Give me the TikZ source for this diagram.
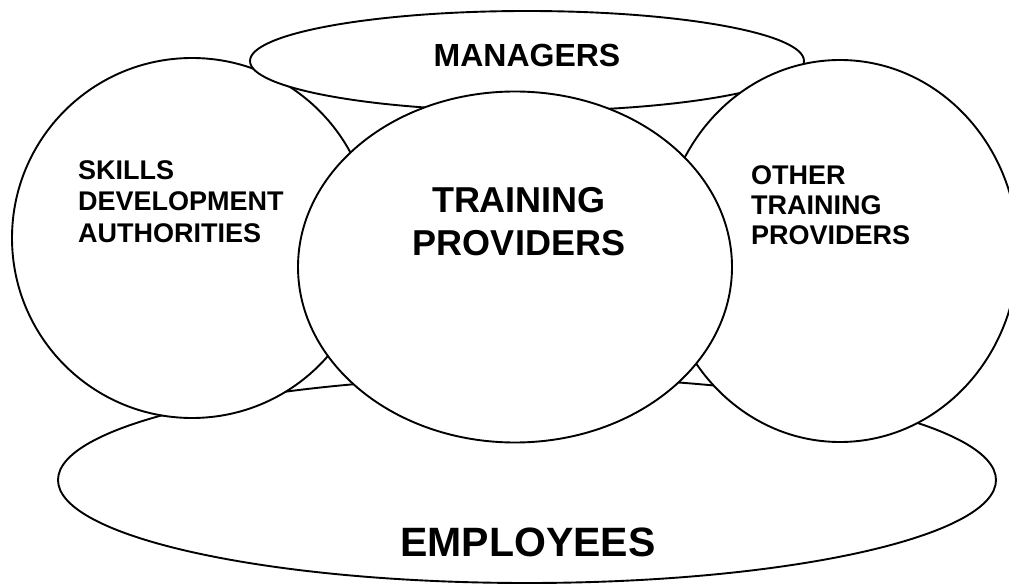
\documentclass[tikz,border=0pt]{standalone}
\usepackage{fontspec}
\setmainfont{Liberation Sans}
\usetikzlibrary{shapes.geometric}
\tikzset{
  group/.style={ellipse, draw=black, fill=white, line width=1.9pt, inner sep=0pt},
  grouplabel/.style={inner sep=0pt, text=black},
}
\begin{document}
\begin{tikzpicture}[x=1pt,y=-1pt]
\useasboundingbox (0,0) rectangle (1009,585);
\clip (0,0) rectangle (1009,585);
% overlapping groups, back to front
\node[group, minimum width=938pt, minimum height=206pt] (employees) at (527,480) {};
\node[group, minimum width=360pt, minimum height=360pt] (skills) at (192,238) {};
\node[group, minimum width=554pt, minimum height=100pt] (managers) at (527,61) {};
\node[group, minimum width=356pt, minimum height=382pt] (other) at (840,251) {};
\node[group, minimum width=434pt, minimum height=351pt] (training) at (515,267) {};
% labels
\node[grouplabel, font=\fontsize{32}{38}\selectfont\bfseries] (managerstext) at (527,55) {MANAGERS};
\node[grouplabel, font=\fontsize{27}{31.5}\selectfont\bfseries, align=left, anchor=west] (skillstext) at (78,201.5) {SKILLS\\DEVELOPMENT\\AUTHORITIES};
\node[grouplabel, font=\fontsize{27}{30}\selectfont\bfseries, align=left, anchor=west] (othertext) at (751,205.5) {OTHER\\TRAINING\\PROVIDERS};
\node[grouplabel, font=\fontsize{36}{43}\selectfont\bfseries, align=center] (trainingtext) at (519,222) {TRAINING\\PROVIDERS};
\node[grouplabel, font=\fontsize{41}{48}\selectfont\bfseries] (employeestext) at (528,542) {EMPLOYEES};
\end{tikzpicture}
\end{document}
